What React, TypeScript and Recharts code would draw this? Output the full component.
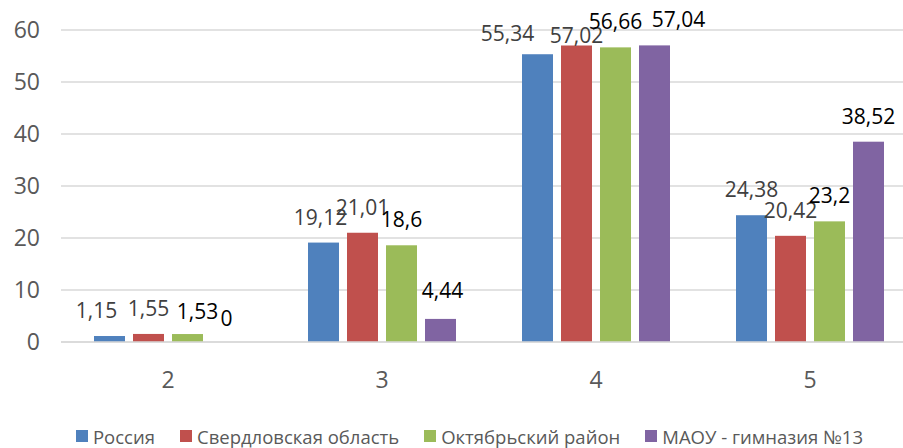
import { BarChart, Bar, XAxis, YAxis, CartesianGrid, Legend } from "recharts";

const categories = ["2", "3", "4", "5"];
const russia = [1.15, 19.12, 55.34, 24.38];
const sverdlovsk = [1.55, 21.01, 57.02, 20.42];
const oktyabrsky = [1.53, 18.6, 56.66, 23.2];
const gymnasium = [0, 4.44, 57.04, 38.52];
const yTicks = [0, 10, 20, 30, 40, 50, 60];

const seriesList = [
    { key: "russia", name: "Россия", color: "#4f81bd", labelColor: "#404040" },
    { key: "sverdlovsk", name: "Свердловская область", color: "#c0504d", labelColor: "#404040" },
    { key: "oktyabrsky", name: "Октябрьский район", color: "#9bbb59", labelColor: "#000000" },
    { key: "gymnasium", name: "МАОУ - гимназия №13", color: "#8064a2", labelColor: "#000000" },
];

// labels were nudged by hand in the original, [dx, dy] per category
const labelNudge: Record<string, number[][]> = {
    russia: [[-13, 0], [-3, 0], [-30, 5], [0, 0]],
    sverdlovsk: [[0, 0], [0, 0], [0, 16], [0, 0]],
    oktyabrsky: [[10, 3], [0, 0], [0, 0], [0, 0]],
    gymnasium: [[0, 2], [2, -3], [24, 0], [0, 0]],
};

const data = categories.map((c, i) => ({
    name: c,
    russia: russia[i],
    sverdlovsk: sverdlovsk[i],
    oktyabrsky: oktyabrsky[i],
    gymnasium: gymnasium[i],
}));

const FONT = "'Open Sans', sans-serif";

const fmt = (v: number) => String(v).replace(".", ",");

// bar + its value label (a LabelList skips the zero bar)
function makeShape(key: string, color: string, labelColor: string) {
    return (props: any) => {
        const { x, y, width, height, index, payload } = props;
        const value = payload ? payload[key] : undefined;
        const [dx, dy] = labelNudge[key][index] || [0, 0];
        const h = Math.max(0, Number(height) || 0);
        return (
            <g>
                {h > 0 && <rect x={x} y={y} width={width} height={h} fill={color} />}
                {value !== undefined && (
                    <text
                        x={Number(x) + Number(width) / 2 + dx}
                        y={Number(y) - 26 + dy}
                        textAnchor="middle"
                        dominantBaseline="central"
                        fill={labelColor}
                        fontSize={21}
                        fontFamily={FONT}
                    >
                        {fmt(value)}
                    </text>
                )}
            </g>
        );
    };
}

function LegendBox() {
    return (
        <div style={{ height: 24, paddingLeft: 36, display: "flex", justifyContent: "center", alignItems: "center", gap: 25, fontFamily: FONT, fontSize: 18.5, color: "#595959", whiteSpace: "nowrap" }}>
            {seriesList.map((s) => (
                <div key={s.key} style={{ display: "flex", alignItems: "center" }}>
                    <span style={{ width: 12, height: 12, background: s.color, display: "inline-block", marginRight: 5 }} />
                    {s.name}
                </div>
            ))}
        </div>
    );
}

export default function App() {
    return (
        <div style={{ position: "absolute", left: 0, top: 0, width: 903, height: 448, overflow: "hidden", background: "#fff" }}>
            <BarChart
                width={917}
                height={448}
                data={data}
                margin={{ top: 30, right: 0, left: 0, bottom: 0 }}
                barCategoryGap={33}
                barGap={8}
            >
                <CartesianGrid vertical={false} stroke="#d9d9d9" strokeWidth={1.5} />
                <XAxis
                    dataKey="name"
                    axisLine={{ stroke: "#d9d9d9", strokeWidth: 1.5 }}
                    tickLine={false}
                    tickMargin={24}
                    height={82}
                    tick={{ fill: "#595959", fontSize: 23, fontFamily: FONT }}
                />
                <YAxis
                    width={61}
                    domain={[0, 60]}
                    ticks={yTicks}
                    axisLine={false}
                    tickLine={false}
                    tickMargin={15}
                    tick={{ fill: "#595959", fontSize: 23, fontFamily: FONT }}
                />
                <Legend verticalAlign="bottom" wrapperStyle={{ width: 903, left: 0 }} content={() => <LegendBox />} />
                {seriesList.map((s) => (
                    <Bar
                        key={s.key}
                        dataKey={s.key}
                        name={s.name}
                        fill={s.color}
                        isAnimationActive={false}
                        shape={makeShape(s.key, s.color, s.labelColor)}
                    />
                ))}
            </BarChart>
        </div>
    );
}
